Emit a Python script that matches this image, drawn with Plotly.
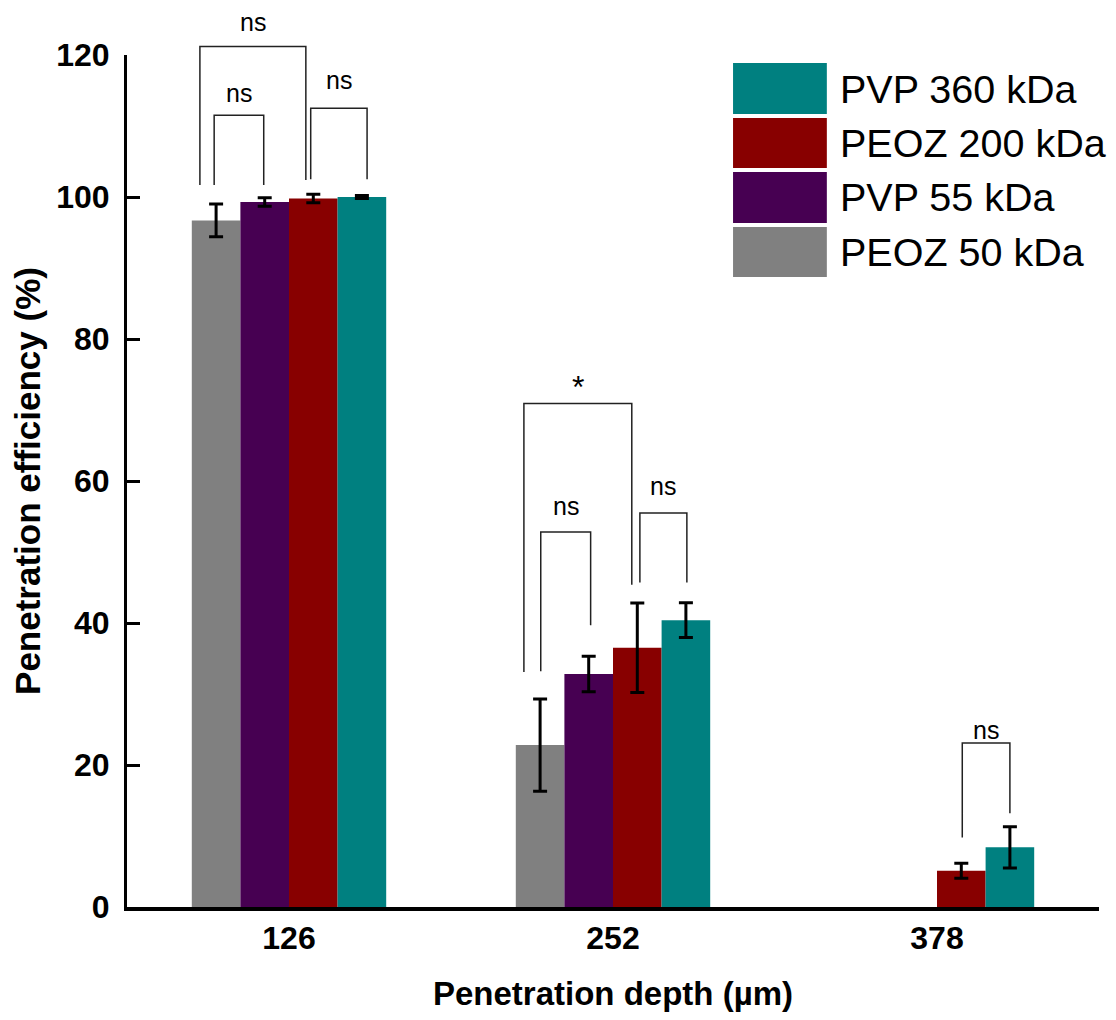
import plotly.graph_objects as go

# ---------------- data ----------------
depths = ["126", "252", "378"]
series_names = ["PEOZ 50 kDa", "PVP 55 kDa", "PEOZ 200 kDa", "PVP 360 kDa"]
series_colors = ["#808080", "#470052", "#880000", "#008080"]

peoz50 = [96.7, 22.8, None]
pvp55 = [99.3, 32.8, None]
peoz200 = [99.8, 36.5, 5.1]
pvp360 = [100.0, 40.4, 8.4]

peoz50_err = [2.3, 6.5, None]
pvp55_err = [0.6, 2.5, None]
peoz200_err = [0.6, 6.3, 1.05]
pvp360_err = [0.2, 2.45, 2.9]

values = [peoz50, pvp55, peoz200, pvp360]
errors = [peoz50_err, pvp55_err, peoz200_err, pvp360_err]

y_ticks = [0, 20, 40, 60, 80, 100, 120]
Y_MAX = 120

# significance brackets: (category index, left offset, right offset, top,
#                         left leg bottom, right leg bottom, label, label y)
brackets = [
    (0, -0.275, 0.052, 121.2, 101.7, 102.4, "ns", 124.7),
    (0, -0.231, -0.078, 111.5, 101.7, 101.7, "ns", 114.7),
    (0, 0.067, 0.241, 112.5, 102.5, 102.5, "ns", 116.5),
    (1, -0.275, 0.058, 70.9, 33.1, 45.4, "*", 73.2),
    (1, -0.223, -0.069, 52.8, 33.2, 39.7, "ns", 56.5),
    (1, 0.083, 0.228, 55.5, 45.7, 45.7, "ns", 59.3),
    (2, 0.078, 0.225, 23.1, 9.8, 13.2, "ns", 25.0),
]

FONT = "Liberation Sans, Arial, sans-serif"

fig = go.Figure()
for name, color, vals, errs in zip(series_names, series_colors, values, errors):
    fig.add_trace(go.Bar(
        x=depths, y=vals, name=name,
        marker=dict(color=color, line=dict(width=0)),
        error_y=dict(type="data", array=errs, visible=True,
                     color="black", thickness=3, width=7),
        showlegend=False,
    ))

shapes = []
annotations = []
for cat, x0, x1, top, lb, rb, label, ly in brackets:
    xa = cat + x0
    xb = cat + x1
    pts = [(xa, lb), (xa, top), (xb, top), (xb, rb)]
    path = "M " + " L ".join(f"{x},{y / Y_MAX}" for x, y in pts)
    shapes.append(dict(type="path", xref="x", yref="paper", path=path,
                       line=dict(color="#222222", width=1.5)))
    annotations.append(dict(
        x=cat + (x0 + x1) / 2, y=ly / Y_MAX, xref="x", yref="paper",
        text=label, showarrow=False, xanchor="center", yanchor="middle",
        font=dict(family=FONT, size=32 if label == "*" else 25, color="black"),
    ))

# custom legend (large swatches, reversed order)
leg_x0, leg_x1 = 0.6235, 0.7200
leg_rows = [(0.9906, 0.9307), (0.9260, 0.8674), (0.8627, 0.8028), (0.7980, 0.7394)]
for (ytop, ybot), name, color in zip(leg_rows, series_names[::-1], series_colors[::-1]):
    shapes.append(dict(type="rect", xref="paper", yref="paper",
                       x0=leg_x0, x1=leg_x1, y0=ybot, y1=ytop,
                       fillcolor=color, line=dict(width=0)))
    annotations.append(dict(
        x=0.7315, y=(ytop + ybot) / 2, xref="paper", yref="paper",
        text=name, showarrow=False, xanchor="left", yanchor="middle",
        font=dict(family=FONT, size=39.5, color="black"),
    ))

# the page body adds an 8px margin on every side, so the figure is
# made 16px smaller than the window and the margins are shifted by 8px
fig.update_layout(
    width=1100, height=1004,
    margin=dict(l=119, r=9, t=47, b=105, autoexpand=False),
    paper_bgcolor="white", plot_bgcolor="white",
    barmode="group", bargap=0.4, bargroupgap=0,
    shapes=shapes, annotations=annotations,
    font=dict(family=FONT, color="black"),
)

fig.update_xaxes(
    range=[-0.5, 2.5], showgrid=False, zeroline=False,
    showline=True, linecolor="black", linewidth=4,
    ticks="", tickfont=dict(family=FONT, size=32, color="black", weight="bold"),
    title=dict(text="Penetration depth (µm)", standoff=30,
               font=dict(family=FONT, size=33, color="black", weight="bold")),
)
fig.update_yaxes(
    range=[0, Y_MAX], tickvals=y_ticks, showgrid=False, zeroline=False,
    showline=True, linecolor="black", linewidth=3,
    ticks="inside", ticklen=13, tickwidth=3, tickcolor="black",
    ticklabelstandoff=8,
    tickfont=dict(family=FONT, size=32, color="black", weight="bold"),
    title=dict(text="Penetration efficiency (%)", standoff=12,
               font=dict(family=FONT, size=35, color="black", weight="bold")),
)

fig.write_html("out.html")
